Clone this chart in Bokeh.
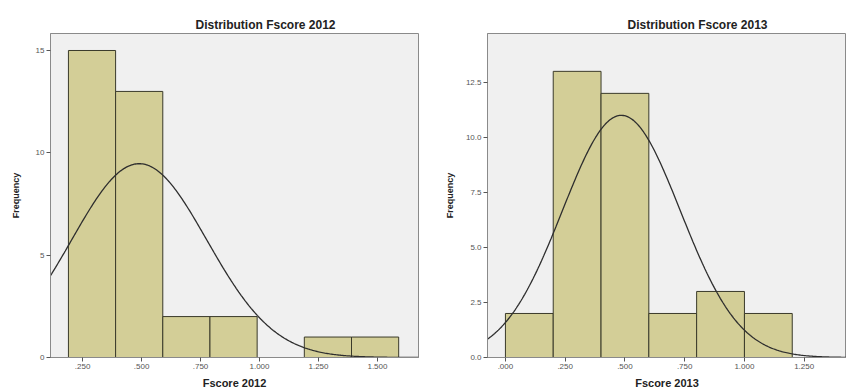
import numpy as np
from bokeh.plotting import figure
from bokeh.layouts import row
from bokeh.models import Range1d, FixedTicker
from bokeh.embed import file_html
from bokeh.resources import INLINE

# ---- data ----
edges_2012 = [0.19, 0.39, 0.59, 0.79, 0.99, 1.19, 1.39, 1.59]
counts_2012 = [15, 13, 2, 2, 0, 1, 1]
mean_2012, sd_2012, n_2012 = 0.49, 0.2865, 34

edges_2013 = [0.0, 0.2, 0.4, 0.6, 0.8, 1.0, 1.2]
counts_2013 = [2, 13, 12, 2, 3, 2]
mean_2013, sd_2013, n_2013 = 0.485, 0.2466, 34

xticks_2012 = [0.25, 0.5, 0.75, 1.0, 1.25, 1.5]
xlabels_2012 = [".250", ".500", ".750", "1.000", "1.250", "1.500"]
yticks_2012 = [0, 5, 10, 15]
ylabels_2012 = ["0", "5", "10", "15"]

xticks_2013 = [0.0, 0.25, 0.5, 0.75, 1.0, 1.25]
xlabels_2013 = [".000", ".250", ".500", ".750", "1.000", "1.250"]
yticks_2013 = [0.0, 2.5, 5.0, 7.5, 10.0, 12.5]
ylabels_2013 = ["0.0", "2.5", "5.0", "7.5", "10.0", "12.5"]

FONT = "Liberation Sans"
BAR = "#D3CE97"


def make(title, xlabel, edges, counts, mean, sd, n, xr, yr, xt, xl, yt, yl,
         width, bl, br, title_off, ylab_standoff):
    p = figure(width=width, height=391, output_backend="svg", toolbar_location=None,
               x_range=Range1d(*xr), y_range=Range1d(*yr),
               min_border_left=bl, min_border_right=br, min_border_top=33,
               min_border_bottom=33)
    p.background_fill_color = "#F0F0F0"
    p.border_fill_color = "white"
    p.outline_line_color = "#8A8A8A"
    p.outline_line_width = 1
    p.grid.visible = False

    p.quad(left=edges[:-1], right=edges[1:], bottom=0, top=counts,
           fill_color=BAR, line_color="#3A3A2A", line_width=1)

    w = edges[1] - edges[0]
    xs = np.linspace(xr[0], xr[1], 300)
    ys = n * w / (sd * np.sqrt(2 * np.pi)) * np.exp(-0.5 * ((xs - mean) / sd) ** 2)
    p.line(xs, ys, line_color="#2E2E2E", line_width=1.3)

    p.title.text = title
    p.title.align = "left"
    p.title.offset = title_off
    p.title.text_font = FONT
    p.title.text_font_size = "12px"
    p.title.text_font_style = "bold"
    p.title.text_color = "#222222"
    p.title.standoff = 4

    for ax in (p.xaxis[0], p.yaxis[0]):
        ax.axis_line_color = "#8A8A8A"
        ax.major_tick_line_color = "#555555"
        ax.major_tick_in = 0
        ax.major_tick_out = 4
        ax.minor_tick_line_color = None
        ax.major_label_text_font = FONT
        ax.major_label_text_font_size = "8px"
        ax.major_label_text_color = "#555555"
        ax.major_label_standoff = 2
        ax.axis_label_text_font = FONT
        ax.axis_label_text_font_style = "bold"
        ax.axis_label_text_color = "#222222"

    p.xaxis.ticker = FixedTicker(ticks=xt)
    p.xaxis.major_label_overrides = dict(zip(xt, xl))
    p.xaxis.axis_label = xlabel
    p.xaxis.axis_label_text_font_size = "11px"
    p.xaxis.axis_label_standoff = 5

    p.yaxis.ticker = FixedTicker(ticks=yt)
    p.yaxis.major_label_overrides = dict(zip(yt, yl))
    p.yaxis.axis_label = "Frequency"
    p.yaxis.axis_label_text_font_size = "9px"
    p.yaxis.axis_label_standoff = ylab_standoff
    return p


p1 = make("Distribution Fscore 2012", "Fscore 2012", edges_2012, counts_2012,
          mean_2012, sd_2012, n_2012, (0.114, 1.674), (0, 15.83),
          xticks_2012, xlabels_2012, yticks_2012, ylabels_2012,
          width=440, bl=50, br=22, title_off=145, ylab_standoff=12)
p2 = make("Distribution Fscore 2013", "Fscore 2013", edges_2013, counts_2013,
          mean_2013, sd_2013, n_2013, (-0.075, 1.427), (0, 14.72),
          xticks_2013, xlabels_2013, yticks_2013, ylabels_2013,
          width=406, bl=47, br=0, title_off=140, ylab_standoff=8)

layout = row(p1, p2)
open("out.html", "w").write(file_html(layout, INLINE))
